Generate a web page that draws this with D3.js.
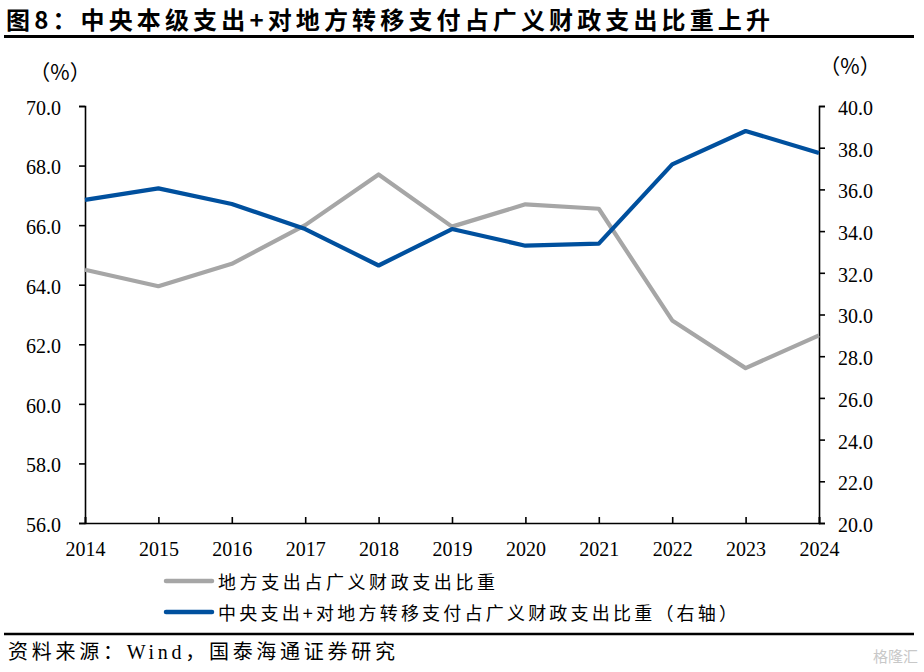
<html>
<head>
<meta charset="utf-8">
<script src="https://d3js.org/d3.v7.min.js"></script>
<style>
  body { margin: 0; background: #fff; }
  text { fill: #000; }
</style>
</head>
<body>
<svg id="chart" width="924" height="672"></svg>
<script>
  const years = [2014, 2015, 2016, 2017, 2018, 2019, 2020, 2021, 2022, 2023, 2024]
  // 地方支出占广义财政支出比重 (left axis)
  const localShare = [64.5, 63.95, 64.7, 66.0, 67.7, 65.95, 66.7, 66.55, 62.8, 61.2, 62.3]
  // 中央支出+对地方转移支付占广义财政支出比重 (right axis)
  const centralShare = [35.5, 36.05, 35.3, 34.1, 32.35, 34.1, 33.3, 33.4, 37.2, 38.8, 37.75]
  const leftTicks = [56, 58, 60, 62, 64, 66, 68, 70]
  const rightTicks = [20, 22, 24, 26, 28, 30, 32, 34, 36, 38, 40]

  const titleText = "图8：中央本级支出+对地方转移支付占广义财政支出比重上升"
  const legendNames = ["地方支出占广义财政支出比重", "中央支出+对地方转移支付占广义财政支出比重（右轴）"]
  const sourceText = "资料来源：Wind，国泰海通证券研究"

  const serif = "'Liberation Serif', 'Times New Roman', serif"
  const cjk = "'Noto Sans CJK SC', sans-serif"
  const mixed = "'Liberation Serif', 'Noto Sans CJK SC', serif"
  const svg = d3.select("#chart")

  const x0 = 85, x1 = 819, yTop = 106, yBot = 523
  const xs = d3.scaleLinear().domain([2014, 2024]).range([x0, x1])
  const yl = d3.scaleLinear().domain([56, 70]).range([yBot, yTop])
  const yr = d3.scaleLinear().domain([20, 40]).range([yBot, yTop])

  // title
  svg.append("text").attr("x", 6).attr("y", 29)
    .attr("font-family", cjk).attr("font-weight", "bold").attr("font-size", 24)
    .attr("textLength", 764).attr("lengthAdjust", "spacing")
    .text(titleText)
  svg.append("line").attr("x1", 4).attr("x2", 914).attr("y1", 36.5).attr("y2", 36.5)
    .attr("stroke", "#000").attr("stroke-width", 3)

  // unit labels
  svg.append("text").attr("x", 60).attr("y", 80).attr("text-anchor", "middle")
    .attr("font-family", cjk).attr("font-size", 21).text("（%）")
  svg.append("text").attr("x", 850).attr("y", 74).attr("text-anchor", "middle")
    .attr("font-family", cjk).attr("font-size", 21).text("（%）")

  function styleAxis(g) {
    g.select(".domain").attr("stroke", "#000").attr("stroke-width", 1.6)
    g.selectAll(".tick line").attr("stroke", "#000").attr("stroke-width", 1.6)
    g.selectAll(".tick text").attr("font-family", serif).attr("font-size", 20).attr("fill", "#000")
  }

  svg.append("g").attr("transform", `translate(${x0},0)`)
    .call(d3.axisLeft(yl).tickValues(leftTicks).tickFormat(d3.format(".1f")).tickSizeOuter(0).tickSize(6).tickPadding(18))
    .call(styleAxis)
    .selectAll(".tick text").attr("dy", "0.42em")
  svg.append("g").attr("transform", `translate(${x1},0)`)
    .call(d3.axisRight(yr).tickValues(rightTicks).tickFormat(d3.format(".1f")).tickSizeOuter(0).tickSize(6).tickPadding(13))
    .call(styleAxis)
    .selectAll(".tick text").attr("dy", "0.42em")
  svg.append("g").attr("transform", `translate(0,${yBot})`)
    .call(d3.axisBottom(xs).tickValues(years).tickFormat(d3.format("d")).tickSizeOuter(0).tickSize(-6).tickPadding(19))
    .call(styleAxis)

  // lines
  const lineL = d3.line().x((d, i) => xs(years[i])).y(d => yl(d))
  const lineR = d3.line().x((d, i) => xs(years[i])).y(d => yr(d))
  svg.append("path").datum(localShare).attr("d", lineL)
    .attr("fill", "none").attr("stroke", "#A6A6A6").attr("stroke-width", 4.2).attr("stroke-linejoin", "round")
  svg.append("path").datum(centralShare).attr("d", lineR)
    .attr("fill", "none").attr("stroke", "#00509E").attr("stroke-width", 4.2).attr("stroke-linejoin", "round")

  // legend
  const legColors = ["#A6A6A6", "#00509E"]
  const legWidths = [277, 519]
  legendNames.forEach((name, i) => {
    const ly = 581 + i * 31
    svg.append("line").attr("x1", 166).attr("x2", 212).attr("y1", ly).attr("y2", ly)
      .attr("stroke", legColors[i]).attr("stroke-width", 4.5).attr("stroke-linecap", "round")
    svg.append("text").attr("x", 218).attr("y", ly + 8)
      .attr("font-family", cjk).attr("font-size", 18)
      .attr("textLength", legWidths[i]).attr("lengthAdjust", "spacing").text(name)
  })

  // footer
  svg.append("line").attr("x1", 4).attr("x2", 914).attr("y1", 634).attr("y2", 634)
    .attr("stroke", "#000").attr("stroke-width", 2.5)
  svg.append("text").attr("x", 8).attr("y", 659)
    .attr("font-family", mixed).attr("font-size", 20)
    .attr("textLength", 387).attr("lengthAdjust", "spacing").text(sourceText)
  svg.append("text").attr("x", 918).attr("y", 662).attr("text-anchor", "end")
    .attr("font-family", cjk).attr("font-size", 15).style("fill", "#c8c8c8").text("格隆汇")
</script>
</body>
</html>
